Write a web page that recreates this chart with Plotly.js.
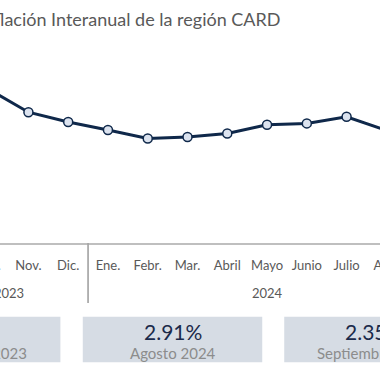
<!DOCTYPE html>
<html>
<head>
<meta charset="utf-8">
<script src="https://cdn.plot.ly/plotly-3.0.1.min.js"></script>
<style>
html,body{margin:0;padding:0;overflow:hidden;background:#fff;width:380px;height:380px;}
#chart{position:absolute;left:-120px;top:0;width:600px;height:380px;}
</style>
</head>
<body>
<div id="chart"></div>
<script>
// Data
var years = ["2023","2023","2023","2023","2024","2024","2024","2024","2024","2024","2024","2024","2024"];
var months = ["Sept.","Oct.","Nov.","Dic.","Ene.","Febr.","Mar.","Abril","Mayo","Junio","Julio","Ago.","Sept."];
var inflation = [4.35, 4.09, 3.43, 3.15, 2.92, 2.68, 2.72, 2.82, 3.07, 3.11, 3.30, 2.91, 2.35];
var yearLabels = ["2023", "2024"];
var cardValues = ["4.35%", "2.91%", "2.35%"];
var cardLabels = ["Septiembre 2023", "Agosto 2024", "Septiembre 2024"];
var titleText = "Inflación Interanual de la región CARD";

var idx = months.map(function(m, i){ return i; });

// Layout geometry (div pixel space)
var W = 600, H = 380;
var L = 48.8, R = 33.8, T = 40, B = 137;
var plotW = W - L - R, plotH = H - T - B;
function fx(px){ return (px - L) / plotW; }
function fy(py){ return (H - B - py) / plotH; }

var shapes = [], annotations = [];

// year groups: centers and dividers
yearLabels.forEach(function(yr){
  var first = years.indexOf(yr), last = years.lastIndexOf(yr);
  annotations.push({xref:'x', yref:'paper', x:(first + last) / 2, y: fy(293), xanchor:'center', yanchor:'middle',
    text: yr, showarrow:false, font:{family:'Lato, sans-serif', size:13, color:'#595959'}});
  [first - 0.5, last + 0.5].forEach(function(b){
    shapes.push({type:'line', xref:'x', yref:'paper', x0:b, x1:b, y0:0, y1:fy(303),
      line:{color:'#a6a6a6', width:1.2}});
  });
});

var cardX = [[0.3, 180.3], [202.7, 382.3], [404.3, 584]];
var cardY = [316.7, 362.3];
var cardValueColors = ["#3fc1d3", "#1b2a4a", "#1b2a4a"];
for (var i = 0; i < cardX.length; i++) {
  shapes.push({type:'rect', xref:'paper', yref:'paper',
    x0: fx(cardX[i][0]), x1: fx(cardX[i][1]), y0: fy(cardY[1]), y1: fy(cardY[0]),
    fillcolor:'#d6dce4', line:{width:0}, layer:'below'});
  var cx = fx((cardX[i][0] + cardX[i][1]) / 2);
  annotations.push({xref:'paper', yref:'paper', x: cx, y: fy(331), xanchor:'center', yanchor:'middle',
    text: cardValues[i], showarrow:false, font:{family:'Lato, sans-serif', size:21, color:cardValueColors[i]}});
  annotations.push({xref:'paper', yref:'paper', x: cx, y: fy(353), xanchor:'center', yanchor:'middle',
    text: cardLabels[i], showarrow:false, font:{family:'Lato, sans-serif', size:15, color:'#8c8c8c'}});
}

var trace = {
  x: idx,
  y: inflation,
  type: 'scatter',
  mode: 'lines+markers',
  line: {color:'#0f284a', width:3},
  marker: {size:9, color:'#dce3ef', line:{color:'#0f284a', width:1.5}},
  cliponaxis: false,
  hoverinfo: 'skip'
};

var v0 = 2.91, y0px = 130.4, pxPer = 35;
var yTop = v0 + (y0px - T) / pxPer;
var yBot = v0 - (H - B - y0px) / pxPer;

var layout = {
  width: W, height: H,
  margin: {l:L, r:R, t:T, b:B, pad:0},
  paper_bgcolor:'#ffffff', plot_bgcolor:'#ffffff',
  showlegend:false,
  font:{family:'Lato, sans-serif', color:'#595959'},
  title:{text:titleText, xref:'container', yref:'container', x: 400.5/W, xanchor:'right',
         y: 1 - 20/H, yanchor:'middle', font:{family:'Lato, sans-serif', size:18, color:'#595959'}},
  xaxis:{range:[-0.5, 12.5], showgrid:false, zeroline:false,
         tickmode:'array', tickvals: idx, ticktext: months, tickangle:0,
         showline:true, linecolor:'#bfbfbf', linewidth:1.5, ticks:'', ticklabelstandoff:10,
         tickfont:{family:'Lato, sans-serif', size:13, color:'#595959'}, fixedrange:true},
  yaxis:{range:[yBot, yTop], visible:false, fixedrange:true},
  shapes: shapes,
  annotations: annotations
};

Plotly.newPlot('chart', [trace], layout, {displayModeBar:false, staticPlot:true});
</script>
</body>
</html>
